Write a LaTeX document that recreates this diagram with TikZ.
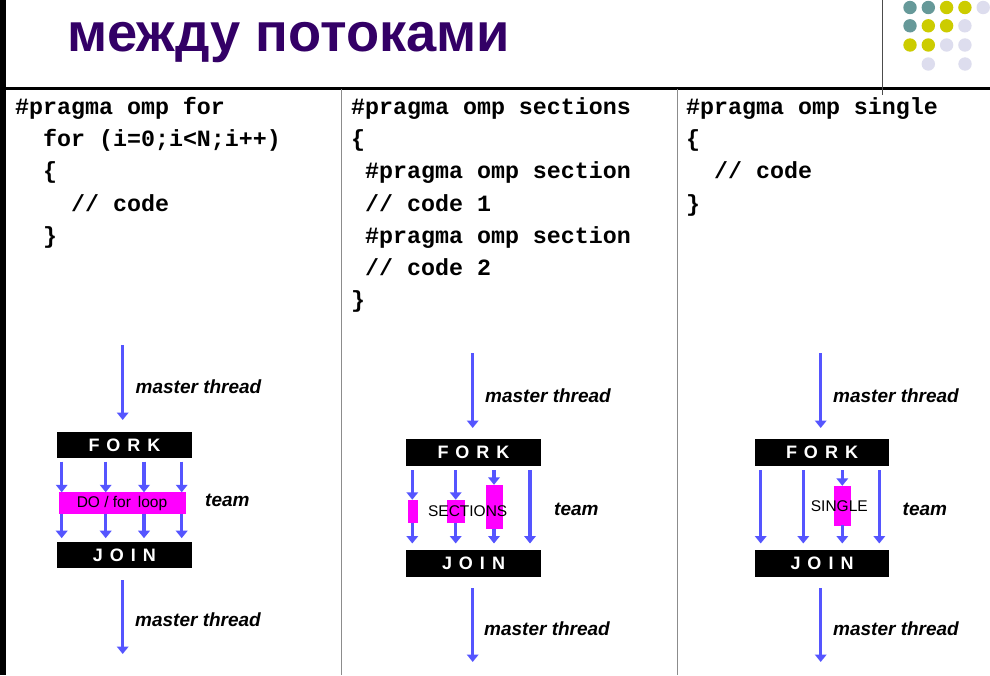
\documentclass[tikz,border=0pt]{standalone}
\usepackage{fontspec}
\setmainfont{Liberation Sans}
\setmonofont{Liberation Mono}
\usetikzlibrary{arrows.meta}

\definecolor{titlecol}{RGB}{51,0,102}
\definecolor{thread}{RGB}{85,85,255}
\definecolor{hilite}{RGB}{255,0,255}
\definecolor{dotteal}{RGB}{102,153,153}
\definecolor{dotyellow}{RGB}{204,204,0}
\definecolor{dotlav}{RGB}{221,221,238}
\definecolor{divider}{RGB}{140,140,140}

\tikzset{
  thr/.style={draw=thread, line width=3.2pt,
    -{Triangle[length=7.5pt,width=11.5pt]}},
  barbox/.style={fill=black, text=white, inner sep=0pt,
    font=\fontsize{18}{18}\selectfont\bfseries},
  workbox/.style={fill=hilite, draw=hilite, inner sep=0pt},
  worklbl/.style={inner sep=0pt, font=\fontsize{15.5}{16}\selectfont},
  lbl/.style={inner sep=0pt, anchor=west,
    font=\fontsize{19}{19}\selectfont\bfseries\itshape},
  codeline/.style={inner sep=0pt, anchor=base west,
    font=\fontsize{23.3}{23.3}\selectfont\ttfamily\bfseries},
  dot/.style={circle, inner sep=0pt, minimum size=13.4pt}
}

\newcommand{\forktext}{F\hspace{7pt}O\hspace{7pt}R\hspace{7pt}K}
\newcommand{\jointext}{J\hspace{7pt}O\hspace{7pt}I\hspace{7pt}N}

\begin{document}
\begin{tikzpicture}[x=1pt,y=-1pt]
\useasboundingbox (0,0) rectangle (990,675);
\fill[white] (0,0) rectangle (990,675);

% frame
\fill[black] (0,0) rectangle (6,675);
\draw[black, line width=2.2pt] (6,88.5) -- (990,88.5);
\draw[black!70, line width=1pt] (882,0) -- (882,95);
\draw[divider, line width=1pt] (341.5,89) -- (341.5,675);
\draw[divider, line width=1pt] (677,89) -- (677,675);

% heading
\node[anchor=base west, inner sep=0pt, text=titlecol] (title) at (67,51.5)
  {\resizebox{443pt}{!}{\fontsize{55}{55}\selectfont\bfseries между потоками}};

% decorative dots
\foreach \c [count=\i] in {dotteal,dotteal,dotyellow,dotyellow,dotlav}
  \node[dot, fill=\c] (dA\i) at ({910+18.3*(\i-1)},7.5) {};
\foreach \c [count=\i] in {dotteal,dotyellow,dotyellow,dotlav}
  \node[dot, fill=\c] (dB\i) at ({910+18.3*(\i-1)},25.8) {};
\foreach \c [count=\i] in {dotyellow,dotyellow,dotlav,dotlav}
  \node[dot, fill=\c] (dC\i) at ({910+18.3*(\i-1)},45) {};
\node[dot, fill=dotlav] (dD1) at (928.3,64) {};
\node[dot, fill=dotlav] (dD2) at (965,64) {};

% code, column 1
\node[codeline] (fA) at (15,114.5) {\#pragma omp for};
\node[codeline] (fB) at (43,146.7) {for (i=0;i<N;i++)};
\node[codeline] (fC) at (43,178.9) {\{};
\node[codeline] (fD) at (71,211.1) {// code};
\node[codeline] (fE) at (43,243.3) {\}};

% code, column 2
\node[codeline] (sA) at (351,114.5) {\#pragma omp sections};
\node[codeline] (sB) at (351,146.7) {\{};
\node[codeline] (sC) at (365,178.9) {\#pragma omp section};
\node[codeline] (sD) at (365,211.1) {// code 1};
\node[codeline] (sE) at (365,243.3) {\#pragma omp section};
\node[codeline] (sF) at (365,275.5) {// code 2};
\node[codeline] (sG) at (351,307.7) {\}};

% code, column 3
\node[codeline] (gA) at (686,114.5) {\#pragma omp single};
\node[codeline] (gB) at (686,146.7) {\{};
\node[codeline] (gC) at (714,178.9) {// code};
\node[codeline] (gD) at (686,211.1) {\}};

% ---------- for ----------
\node[barbox, minimum width=135pt, minimum height=26.5pt] (fork1) at (124.5,445) {\forktext};
\node[barbox, minimum width=135pt, minimum height=26.5pt] (join1) at (124.5,555) {\jointext};
\node[workbox, minimum width=126pt, minimum height=21pt] (loop1) at (122,503) {};
\node[worklbl] (loop1t) at (122,503) {DO / for\, loop};
\coordinate (m1a) at (122.7,345);
\coordinate (m1e) at (122.7,420);
\coordinate (m1b) at (122.7,580);
\coordinate (m1c) at (122.7,654);
\draw[thr] (m1a) -- (m1e);
\draw[thr] (m1b) -- (m1c);
\foreach \x [count=\i] in {61.7,105.7,144,181.7} {
  \coordinate (t1\i) at (\x,461.5);
  \draw[thr] (t1\i) -- (t1\i |- loop1.north);
  \draw[thr] (t1\i |- loop1.south) -- ++(0,24.5) coordinate (b1\i);
}
\node[lbl] (mt1a) at (135.5,387) {master thread};
\node[lbl] (team1) at (205,500.5) {team};
\node[lbl] (mt1b) at (135,620) {master thread};

% ---------- sections ----------
\node[barbox, minimum width=135pt, minimum height=27pt] (fork2) at (473.5,452.5) {\forktext};
\node[barbox, minimum width=135pt, minimum height=27pt] (join2) at (473.5,563) {\jointext};
\coordinate (m2a) at (472.7,353);
\coordinate (m2e) at (472.7,428);
\coordinate (m2b) at (472.7,588);
\coordinate (m2c) at (472.7,662);
\draw[thr] (m2a) -- (m2e);
\draw[thr] (m2b) -- (m2c);
\node[workbox, minimum width=8.4pt, minimum height=22.7pt] (sec1) at (412.5,511.3) {};
\node[workbox, minimum width=16.7pt, minimum height=22.7pt] (sec2) at (455.7,511.3) {};
\node[workbox, minimum width=16pt, minimum height=43.3pt] (sec3) at (493.7,506.7) {};
\node[worklbl] (sect) at (467.7,510.7) {SECTIONS};
\coordinate (t21) at (412.3,470);
\coordinate (t22) at (455.7,470);
\coordinate (t23) at (494,470);
\coordinate (t24) at (530,470);
\draw[thr] (t21) -- (t21 |- sec1.north);
\draw[thr] (t21 |- sec1.south) -- (412.3,543.5);
\draw[thr] (t22) -- (t22 |- sec2.north);
\draw[thr] (t22 |- sec2.south) -- (455.7,543.5);
\draw[thr] (t23) -- (t23 |- sec3.north);
\draw[thr] (t23 |- sec3.south) -- (494,543.5);
\draw[thr] (t24) -- (530,543.5);
\node[lbl] (mt2a) at (485,395.5) {master thread};
\node[lbl] (team2) at (554,509) {team};
\node[lbl] (mt2b) at (484,628.5) {master thread};

% ---------- single ----------
\node[barbox, minimum width=134.5pt, minimum height=27pt] (fork3) at (822,452.5) {\forktext};
\node[barbox, minimum width=134.5pt, minimum height=27pt] (join3) at (822,563.3) {\jointext};
\coordinate (m3a) at (820.7,353);
\coordinate (m3e) at (820.7,428);
\coordinate (m3b) at (820.7,588);
\coordinate (m3c) at (820.7,662);
\draw[thr] (m3a) -- (m3e);
\draw[thr] (m3b) -- (m3c);
\node[workbox, minimum width=16pt, minimum height=39pt] (sgl) at (842,505.5) {};
\node[worklbl] (sglt) at (839.3,506) {SINGLE};
\coordinate (t31) at (760.7,470);
\coordinate (t32) at (803.3,470);
\coordinate (t33) at (842.3,470);
\coordinate (t34) at (879.3,470);
\draw[thr] (t31) -- (760.7,543.5);
\draw[thr] (t32) -- (803.3,543.5);
\draw[thr] (t33) -- (t33 |- sgl.north);
\draw[thr] (t33 |- sgl.south) -- (842.3,543.5);
\draw[thr] (t34) -- (879.3,543.5);
\node[lbl] (mt3a) at (833,395.5) {master thread};
\node[lbl] (team3) at (902.5,509) {team};
\node[lbl] (mt3b) at (833,628.5) {master thread};
\end{tikzpicture}
\end{document}
